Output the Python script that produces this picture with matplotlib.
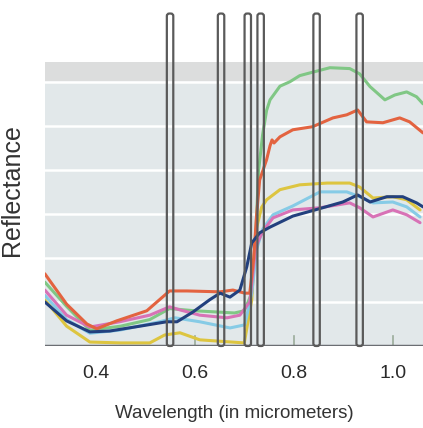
import numpy as np
import matplotlib.pyplot as plt
from matplotlib.patches import FancyBboxPatch

plt.rcParams['font.family'] = ['Liberation Sans', 'DejaVu Sans']

# Spectral curves: wavelength (micrometers) and reflectance (%)
green_wl = [0.297, 0.341, 0.388, 0.450, 0.509, 0.549, 0.600, 0.680, 0.700, 0.715, 0.723, 0.729,
            0.737, 0.745, 0.752, 0.772, 0.792, 0.812, 0.832, 0.873, 0.913, 0.933, 0.954, 0.984,
            1.004, 1.028, 1.048, 1.061]
green_refl = [14.5, 9.0, 3.6, 4.5, 6.0, 8.5, 8.0, 7.5, 8.0, 12.0, 25.0, 40.0,
              48.0, 53.5, 55.9, 59.0, 60.0, 61.4, 62.0, 63.2, 63.0, 61.8, 58.9, 55.9,
              57.0, 57.7, 56.6, 55.0]

red_wl = [0.297, 0.341, 0.382, 0.402, 0.442, 0.503, 0.549, 0.584, 0.651, 0.677, 0.701, 0.711,
          0.719, 0.725, 0.731, 0.745, 0.752, 0.756, 0.760, 0.772, 0.798, 0.838, 0.879, 0.907,
          0.929, 0.947, 0.980, 1.014, 1.034, 1.061]
red_refl = [16.4, 9.5, 5.0, 3.9, 5.7, 8.0, 12.5, 12.5, 12.3, 12.7, 12.0, 12.0,
            20.0, 30.0, 37.7, 42.3, 45.5, 46.8, 46.1, 47.5, 49.1, 49.8, 51.8, 52.5,
            53.6, 50.9, 50.7, 51.8, 50.9, 48.4]

yellow_wl = [0.297, 0.341, 0.388, 0.450, 0.509, 0.539, 0.570, 0.610, 0.700, 0.715, 0.723, 0.735,
             0.745, 0.772, 0.812, 0.867, 0.913, 0.933, 0.960, 1.000, 1.028, 1.055]
yellow_refl = [10.5, 4.5, 0.9, 0.7, 0.7, 2.5, 3.0, 1.4, 0.7, 10.5, 26.0, 31.5,
               33.2, 35.5, 36.6, 37.0, 37.0, 36.1, 33.6, 33.9, 33.2, 30.9]

cyan_wl = [0.297, 0.341, 0.388, 0.448, 0.529, 0.560, 0.610, 0.671, 0.701, 0.715, 0.725, 0.737,
           0.758, 0.798, 0.853, 0.907, 0.933, 0.960, 1.000, 1.028, 1.055]
cyan_refl = [11.5, 6.0, 2.9, 3.6, 5.5, 6.4, 5.5, 4.1, 4.8, 12.0, 22.0, 26.5,
             29.8, 31.8, 35.0, 35.0, 33.9, 32.5, 32.7, 31.6, 29.3]

pink_wl = [0.297, 0.341, 0.388, 0.448, 0.509, 0.549, 0.570, 0.610, 0.665, 0.691, 0.711, 0.723,
           0.737, 0.758, 0.798, 0.853, 0.913, 0.933, 0.960, 1.000, 1.028, 1.055]
pink_refl = [12.7, 7.0, 4.3, 5.5, 7.0, 8.9, 8.2, 7.0, 6.4, 7.0, 10.0, 22.5,
             26.0, 29.1, 30.9, 31.4, 32.5, 31.4, 29.3, 30.9, 29.8, 28.0]

navy_wl = [0.297, 0.341, 0.388, 0.428, 0.489, 0.543, 0.564, 0.596, 0.630, 0.651, 0.671, 0.691,
           0.705, 0.715, 0.731, 0.752, 0.798, 0.846, 0.899, 0.929, 0.954, 0.988, 1.020, 1.048,
           1.061]
navy_refl = [10.0, 5.7, 3.2, 3.4, 4.5, 5.5, 5.5, 7.7, 10.5, 12.0, 11.1, 12.7,
             18.0, 23.4, 25.7, 27.0, 29.5, 31.0, 32.7, 34.3, 32.7, 33.9, 33.9, 32.5,
             31.6]

# Sensor band centres (micrometers)
band_centers = [0.550, 0.653, 0.707, 0.733, 0.846, 0.933]
band_width = 0.013
band_top = 75.5

xtick_vals = [0.4, 0.6, 0.8, 1.0]

fig = plt.figure(figsize=(4.23, 4.28), dpi=100)
ax = fig.add_axes([0.106, 0.1916, 0.894, 0.6636])

ax.set_xlim(0.297, 1.061)
ax.set_ylim(0, 64.5)
ax.set_facecolor('#e2e8ea')
ax.axhspan(60.5, 64.5, color='#dcdddd', zorder=0)
for g in range(10, 61, 10):
    ax.axhline(g, color='white', linewidth=1.8, zorder=1)

series = [
    (green_wl, green_refl, '#80c785'),
    (yellow_wl, yellow_refl, '#ddc540'),
    (cyan_wl, cyan_refl, '#86cbe6'),
    (pink_wl, pink_refl, '#d872b6'),
    (red_wl, red_refl, '#e36340'),
    (navy_wl, navy_refl, '#22407e'),
]
for wl, refl, col in series:
    ax.plot(wl, refl, color=col, linewidth=2.2, zorder=3,
            solid_capstyle='round', solid_joinstyle='round')

# small inner ticks on the baseline
for xv in xtick_vals[1:]:
    ax.plot([xv, xv], [0, 2.2], color='#9aab9a', linewidth=1.2, zorder=2)

ax.axhline(0, color='#6b6e73', linewidth=2.5, zorder=4)

# narrow band outlines, standing above the plot
for c in band_centers:
    box = FancyBboxPatch((c - band_width / 2, 0), band_width, band_top,
                         boxstyle='round,pad=0,rounding_size=0.005',
                         mutation_aspect=112, facecolor='none', edgecolor='#5a5a5a',
                         linewidth=1.6, clip_on=False, zorder=5)
    ax.add_patch(box)

for s in ax.spines.values():
    s.set_visible(False)
ax.set_xticks(xtick_vals)
ax.set_xticklabels(['0.4', '0.6', '0.8', '1.0'], fontsize=14, color='#2a2a2a')
ax.tick_params(axis='x', length=0, pad=14)
ax.set_yticks([])

ax.set_xlabel('Wavelength (in micrometers)', fontsize=13.5, color='#333333', labelpad=16)
ax.set_ylabel('Reflectance', fontsize=18, color='#333333')
ax.yaxis.set_label_coords(-0.054, 0.55)

fig.savefig('out.png', dpi=100)
